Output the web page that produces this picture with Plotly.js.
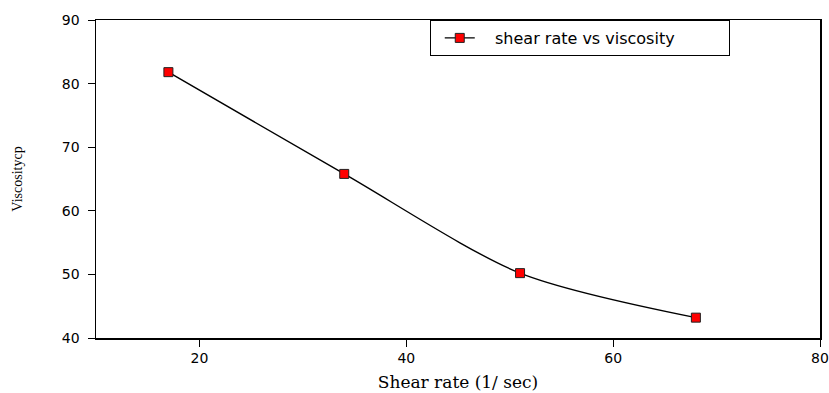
<!DOCTYPE html>
<html>
<head>
<meta charset="utf-8">
<script src="https://cdn.plot.ly/plotly-3.0.1.min.js"></script>
<style>html,body{margin:0;padding:0;background:#fff;}#chart{width:829px;height:393px;}</style>
</head>
<body>
<div id="chart"></div>
<script>
const shearRate = [17, 34, 51, 68];
const viscosity = [81.8, 65.8, 50.2, 43.2];
const seriesName = "shear rate vs viscosity";
const xTicks = [20, 40, 60, 80];
const yTicks = [40, 50, 60, 70, 80, 90];

const trace = {
  x: shearRate,
  y: viscosity,
  name: "\u00a0\u00a0\u00a0" + seriesName,
  type: "scatter",
  mode: "lines+markers",
  line: {color: "#000", width: 1.4, shape: "spline", smoothing: 0.8},
  marker: {symbol: "square", size: 9, color: "#ff0000", line: {color: "#222", width: 1}}
};

const layout = {
  width: 829, height: 393,
  margin: {l: 96, r: 9, t: 20, b: 55},
  paper_bgcolor: "#fff", plot_bgcolor: "#fff",
  font: {family: "DejaVu Sans, Arial, sans-serif", size: 13, color: "#000"},
  showlegend: true,
  legend: {
    x: 0.461, y: 1, xanchor: "left", yanchor: "top",
    orientation: "h", entrywidth: 244, entrywidthmode: "pixels", indentation: 9,
    bordercolor: "#000", borderwidth: 1, bgcolor: "#fff",
    font: {family: "DejaVu Sans, Arial, sans-serif", size: 16, color: "#000"}
  },
  xaxis: {
    range: [10, 80], tickvals: xTicks, ticktext: xTicks.map(String),
    showgrid: false, zeroline: false,
    showline: true, linecolor: "#000", linewidth: 1.5, mirror: true,
    ticks: "outside", ticklen: 7, tickcolor: "#000", tickwidth: 1,
    tickfont: {size: 14},
    title: {text: "Shear rate (1/ sec)", font: {family: "DejaVu Serif, Liberation Serif, serif", size: 17}, standoff: 11}
  },
  yaxis: {
    range: [40, 90], tickvals: yTicks, ticktext: yTicks.map(String),
    showgrid: false, zeroline: false,
    showline: true, linecolor: "#000", linewidth: 1.5, mirror: true,
    ticks: "outside", ticklen: 7, tickcolor: "#000", tickwidth: 1,
    ticklabelstandoff: 5,
    tickfont: {size: 14},
    title: {text: "Viscositycp", font: {family: "Liberation Serif, Times New Roman, serif", size: 14}, standoff: 36}
  }
};

Plotly.newPlot("chart", [trace], layout, {displayModeBar: false, staticPlot: true});
</script>
</body>
</html>
